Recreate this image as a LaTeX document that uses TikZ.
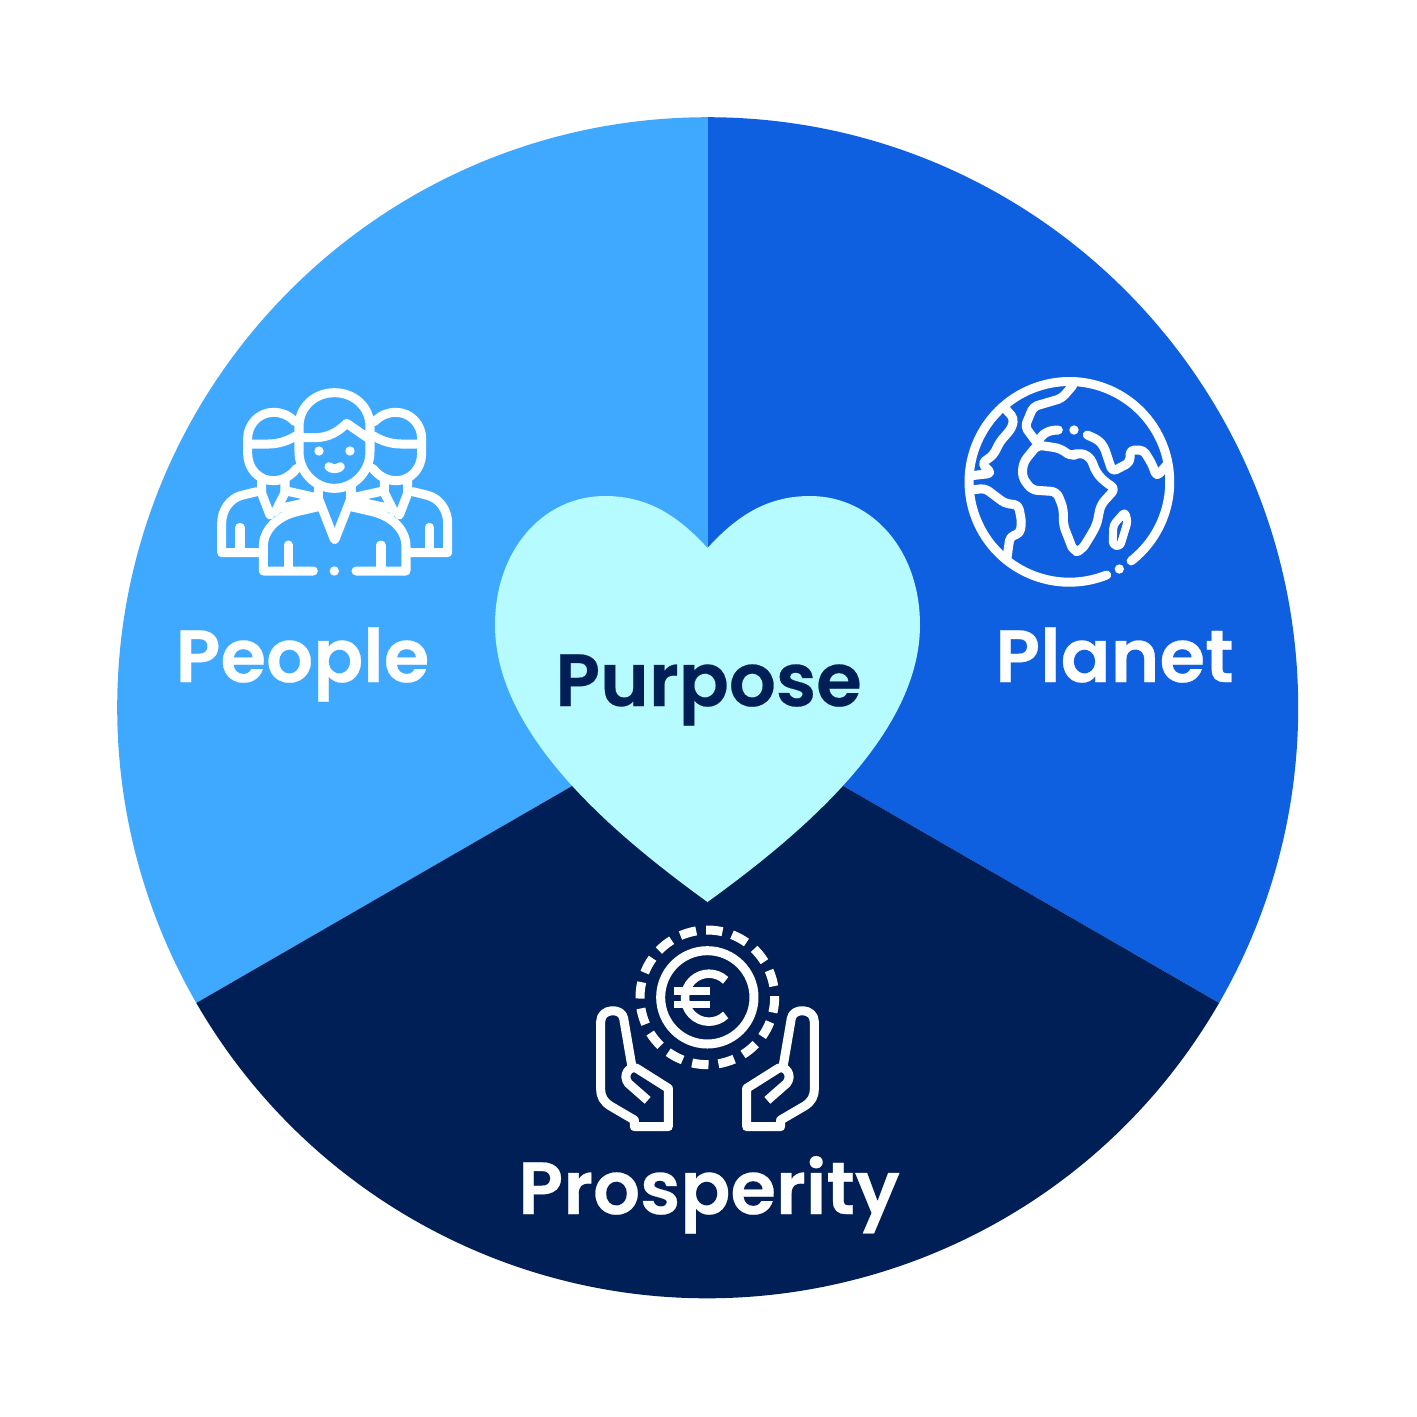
\documentclass[tikz,border=0pt]{standalone}
\usepackage{fontspec}
\usetikzlibrary{calc}
\setmainfont{Poppins}
\newfontfamily\lblfont[FakeBold=0.35]{Poppins SemiBold}
\definecolor{cLight}{HTML}{3FA9FF}
\definecolor{cMid}{HTML}{0F60E0}
\definecolor{cDark}{HTML}{011F57}
\definecolor{cHeart}{HTML}{B5FBFF}
\tikzset{
  icon/.style={draw=white,line width=0.09cm,line cap=round,line join=round,fill=none},
  iconmiter/.style={draw=white,line width=0.09cm,line cap=butt,line join=round,fill=none},
  lbl/.style={font=\fontsize{21}{26}\lblfont,text=white,anchor=base,inner sep=0pt},
  lbldark/.style={lbl,text=cDark},
  zoomed/.style={scale=0.3333333}
}
\begin{document}
\begin{tikzpicture}[x=0.01cm,y=0.01cm,yscale=-1]
\useasboundingbox (0,0) rectangle (1417,1417);
\fill[white] (0,0) rectangle (1417,1417);
% sectors
\coordinate (c) at (707.7,707.7);
\fill[cLight] (c) -- (707.7,117.2) arc (-90:-210:590.5) -- cycle;
\fill[cMid] (c) -- (707.7,117.2) arc (-90:30:590.5) -- cycle;
\fill[cDark] (c) -- ($(c)+(30:590.5)$) arc (30:150:590.5) -- cycle;
% heart
\fill[cHeart] (707.5,548) .. controls (735,518) and (765,496) .. (810,496)
  .. controls (872,496) and (920,550) .. (920,625)
  .. controls (920,735) and (800,835) .. (707.5,902)
  .. controls (615,835) and (495,735) .. (495,625)
  .. controls (495,550) and (543,496) .. (605,496)
  .. controls (650,496) and (680,518) .. (707.5,548) -- cycle;
% people icon
\begin{scope}[shift={(200,370)},zoomed]
 % centre head
 \draw[icon] (297,245) -- (297,170) .. controls (297,110) and (345,68) .. (403,68)
   .. controls (462,68) and (510,110) .. (510,170) -- (510,245)
   .. controls (510,305) and (462,355) .. (403,355) .. controls (345,355) and (297,305) .. (297,245);
 \draw[icon] (297,203) -- (345,203) .. controls (385,203) and (415,185) .. (440,160) -- (505,205);
 \fill[white] (357,243) circle (14) (450,243) circle (14);
 \draw[icon] (387,290) .. controls (395,298) and (412,298) .. (421,290);
 % side heads
 \foreach \m/\s in {0/1,808/-1}{
 \begin{scope}[shift={(\m,0)},xscale=\s]
  \draw[icon] (285,155) .. controls (265,135) and (245,127) .. (220,127)
    .. controls (175,127) and (143,165) .. (143,205) -- (143,250)
    .. controls (143,295) and (175,332) .. (220,332) .. controls (250,332) and (275,315) .. (290,295);
  \draw[icon] (143,222) -- (205,222) .. controls (235,222) and (265,212) .. (287,198);
  \draw[icon] (185,330) -- (185,370) -- (210,435);
  \draw[icon] (255,330) -- (255,368) -- (226,425);
  \draw[icon] (255,362) -- (345,382);
  \draw[icon] (240,415) -- (345,392);
  \draw[icon] (170,365) -- (125,376) .. controls (90,385) and (65,420) .. (65,460) -- (65,548) -- (180,548);
  \draw[icon] (120,472) -- (120,545);
  \draw[icon] (355,345) -- (355,385);
  \draw[icon] (355,385) -- (403,508);
  \draw[icon] (355,410) -- (290,425) .. controls (230,440) and (190,480) .. (190,530) -- (190,603) -- (340,603);
  \draw[icon] (265,525) -- (265,600);
 \end{scope}}
 \fill[white] (403,603) circle (14);
\end{scope}
% globe icon
\begin{scope}[shift={(950,365)},zoomed]
 \coordinate (g) at (358,350);
 \draw[icon] (470,630) arc (68.2:412:301);
 \fill[white] (508,612) circle (14) (372,195) circle (14);
 % Africa
 \draw[icon,rounded corners=1.6pt] (262,240) -- (220,292) -- (216,335) -- (245,375) -- (320,380) -- (340,430) -- (340,480) -- (372,562) -- (395,555) -- (420,515) -- (440,480) -- (452,420) -- (497,370) -- (470,355) -- (440,325) -- (420,275) -- (385,262) -- (365,275) -- (330,250) -- cycle;
 % Europe and Asia
 \draw[icon,rounded corners=1.2pt] (368,62) -- (335,100) -- (250,125) -- (225,185) -- (262,235);
 \draw[icon] (262,235) .. controls (275,205) and (295,195) .. (325,195);
 \draw[icon,rounded corners=1.2pt] (412,210) -- (445,225) -- (462,245) -- (487,320) -- (540,292) -- (540,255) -- (580,255) -- (605,295) -- (620,335) -- (650,300);
 % Madagascar
 \draw[icon,rounded corners=1pt,line width=0.08cm] (525,440) -- (490,480) -- (488,540) -- (510,545) -- (533,470) -- cycle;
 % Americas
 \draw[icon,rounded corners=1.2pt] (165,130) -- (192,160) -- (185,190) -- (150,230) -- (130,270) -- (95,295) -- (125,325) -- (65,332);
 \draw[icon,rounded corners=1.2pt] (65,375) -- (105,370) -- (165,415) -- (205,420) -- (215,470) -- (210,505) -- (180,515) -- (170,585);
\end{scope}
% prosperity icon
\begin{scope}[shift={(585,915)},zoomed]
 \draw[icon] (367,247) circle (140);
 \foreach \i in {0,...,15}{
   \pgfmathsetmacro{\ang}{-84+22.5*\i-7}
   \pgfmathsetmacro{\angb}{-84+22.5*\i+7}
   \draw[iconmiter] ($(367,247)+(\ang:202)$) arc (\ang:\angb:202);
 }
 \draw[iconmiter,line width=0.085cm] ($(372,248)+(46:72)$) arc (46:314:72);
 \draw[iconmiter,line width=0.075cm] (268,228) -- (375,228) (268,268) -- (375,268);
 \foreach \m/\s in {0/1,735/-1}{
 \begin{scope}[shift={(\m,0)},xscale=\s]
  \draw[icon,line cap=butt] (140,450) -- (116,310) .. controls (112,278) and (47,278) .. (47,320) -- (47,520) .. controls (47,545) and (55,560) .. (78,574) -- (148,615) -- (148,635) -- (250,635) -- (250,520) -- (155,460) .. controls (135,450) and (110,480) .. (130,505) -- (188,556);
 \end{scope}}
\end{scope}
% labels
\node[lbl] (people) at (302.5,682) {People};
\node[lbl] (planet) at (1114.5,682) {Planet};
\node[lbldark] (purpose) at (708.5,706) {Purpose};
\node[lbl] (prosperity) at (709,1214) {Prosperity};
\end{tikzpicture}
\end{document}
